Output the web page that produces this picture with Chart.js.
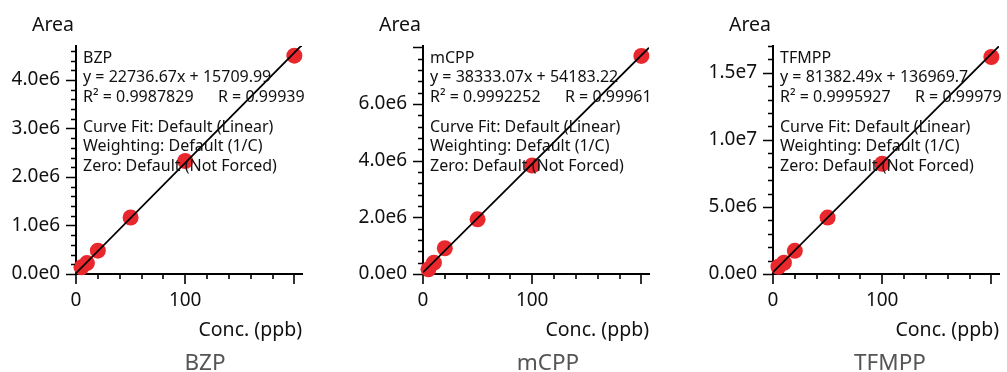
<!DOCTYPE html>
<html>
<head>
<meta charset="utf-8">
<script src="https://cdn.jsdelivr.net/npm/chart.js@4.4.1/dist/chart.umd.min.js"></script>
<style>
  body { margin: 0; background: #fff; }
  #wrap { position: relative; width: 1007px; height: 372px; overflow: hidden; }
  .panel { position: absolute; top: 0; }
  .caption {
    position: absolute; top: 348px; width: 140px; margin-left: -70px;
    text-align: center; font: 22.5px "Noto Sans", sans-serif; color: #555; line-height: 28px;
  }
</style>
</head>
<body>
<div id="wrap">
  <canvas class="panel" id="c0" width="310" height="372" style="left:0px"></canvas>
  <canvas class="panel" id="c1" width="310" height="372" style="left:347px"></canvas>
  <canvas class="panel" id="c2" width="310" height="372" style="left:697px"></canvas>
  <div class="caption" style="left:205px">BZP</div>
  <div class="caption" style="left:548px">mCPP</div>
  <div class="caption" style="left:890px">TFMPP</div>
</div>
<script>
// calibration levels (ppb) and peak areas
const concentrations = [5, 10, 20, 50, 100, 200];
const bzpArea = [138000, 226000, 480000, 1165000, 2330000, 4500000];
const mcppArea = [166000, 400000, 910000, 1930000, 3830000, 7700000];
const tfmppArea = [540000, 840000, 1730000, 4210000, 8220000, 16180000];

const compounds = ['BZP', 'mCPP', 'TFMPP'];
const slopes = [22736.67, 38333.07, 81382.49];
const intercepts = [15709.99, 54183.22, 136969.7];
const fitEquations = ['y = 22736.67x + 15709.99', 'y = 38333.07x + 54183.22', 'y = 81382.49x + 136969.7'];
const rSquared = ['R² = 0.9987829', 'R² = 0.9992252', 'R² = 0.9995927'];
const rValues = ['R = 0.99939', 'R = 0.99961', 'R = 0.99979'];
const fitNotes = ['Curve Fit: Default (Linear)', 'Weighting: Default (1/C)', 'Zero: Default (Not Forced)'];

const xTicks = [0, 100, 200];
const xTickLabels = ['0', '100', ''];
const bzpYTicks = [0, 1e6, 2e6, 3e6, 4e6];
const bzpYLabels = ['0.0e0', '1.0e6', '2.0e6', '3.0e6', '4.0e6'];
const mcppYTicks = [0, 2e6, 4e6, 6e6, 8e6];
const mcppYLabels = ['0.0e0', '2.0e6', '4.0e6', '6.0e6', ''];
const tfmppYTicks = [0, 5e6, 1e7, 1.5e7];
const tfmppYLabels = ['0.0e0', '5.0e6', '1.0e7', '1.5e7'];

const X_MAX = 207;
const X_MINOR = 20;
const FONT = '"Noto Sans", sans-serif';

// minor/major tick marks, "Area" label and the fit summary text
const decor = {
  id: 'decor',
  afterDatasetsDraw(chart, args, opts) {
    const ctx = chart.ctx;
    const { left, bottom } = chart.chartArea;
    const xs = chart.scales.x, ys = chart.scales.y;
    ctx.save();
    ctx.strokeStyle = '#000';
    ctx.lineWidth = 1.6;
    ctx.beginPath();
    for (let k = 0; k * X_MINOR <= xs.max + 1e-9; k++) {
      const v = k * X_MINOR;
      const px = Math.round(xs.getPixelForValue(v));
      const len = xTicks.includes(v) ? 9 : 4;
      ctx.moveTo(px, bottom + 1);
      ctx.lineTo(px, bottom + 1 + len);
    }
    for (let k = 0; k * opts.yMinor <= ys.max * 1.0000001; k++) {
      const v = k * opts.yMinor;
      const py = Math.round(ys.getPixelForValue(v)) + 0.5;
      const major = opts.yMajor.some(m => Math.abs(m - v) < opts.yMinor / 10);
      const len = major ? 9 : 4;
      ctx.moveTo(left - 1, py);
      ctx.lineTo(left - 1 - len, py);
    }
    ctx.stroke();

    ctx.fillStyle = '#111';
    ctx.font = '19.5px ' + FONT;
    ctx.textAlign = 'right';
    ctx.textBaseline = 'alphabetic';
    ctx.fillText('Area', left - 2, 31);

    ctx.font = '16px ' + FONT;
    ctx.textAlign = 'left';
    const tx = left + 7;
    ctx.fillText(opts.name, tx, 62.5);
    ctx.fillText(opts.equation, tx, 82);
    ctx.fillText(opts.r2, tx, 101.5);
    ctx.fillText(opts.r, left + 142, 101.5);
    ctx.fillText(fitNotes[0], tx, 131.5);
    ctx.fillText(fitNotes[1], tx, 151);
    ctx.fillText(fitNotes[2], tx, 170.5);
    ctx.restore();
  }
};

function makePanel(canvasId, idx, areas, yMax, yTicks, yLabels, yMinor) {
  const points = concentrations.map((c, i) => ({ x: c, y: areas[i] }));
  const fitLine = [
    { x: 0, y: intercepts[idx] },
    { x: X_MAX, y: slopes[idx] * X_MAX + intercepts[idx] }
  ];
  return new Chart(document.getElementById(canvasId), {
    type: 'scatter',
    data: {
      datasets: [{
        data: fitLine,
        showLine: true,
        borderColor: '#000',
        borderWidth: 1.8,
        pointRadius: 0,
        order: 0
      }, {
        data: points,
        pointRadius: 8,
        pointBackgroundColor: '#e8282d',
        pointBorderWidth: 0,
        clip: false,
        order: 1
      }]
    },
    options: {
      responsive: false,
      animation: false,
      layout: { padding: { top: 46, right: 2, bottom: 30, left: 0 } },
      plugins: {
        legend: { display: false },
        tooltip: { enabled: false },
        decor: {
          name: compounds[idx],
          equation: fitEquations[idx],
          r2: rSquared[idx],
          r: rValues[idx],
          yMajor: yTicks,
          yMinor: yMinor
        }
      },
      scales: {
        x: {
          type: 'linear',
          min: 0,
          max: X_MAX,
          afterBuildTicks: s => { s.ticks = xTicks.map(v => ({ value: v })); },
          afterFit: s => { s.height = 68; },
          grid: { display: false, drawTicks: false },
          border: { display: true, color: '#000', width: 2 },
          ticks: {
            autoSkip: false,
            maxRotation: 0,
            padding: 15,
            color: '#111',
            font: { family: FONT, size: 19 },
            callback: (v, i) => xTickLabels[i]
          },
          title: {
            display: true,
            text: 'Conc. (ppb)',
            align: 'end',
            color: '#111',
            padding: { top: 0, bottom: 0 },
            font: { family: FONT, size: 19.5 }
          }
        },
        y: {
          type: 'linear',
          min: 0,
          max: yMax,
          afterBuildTicks: s => { s.ticks = yTicks.map(v => ({ value: v })); },
          afterFit: s => { s.width = 76; },
          grid: { display: false, drawTicks: false },
          border: { display: true, color: '#000', width: 2 },
          ticks: {
            autoSkip: false,
            padding: 16,
            color: '#111',
            font: { family: FONT, size: 19 },
            callback: (v, i) => yLabels[i]
          }
        }
      }
    },
    plugins: [decor]
  });
}

makePanel('c0', 0, bzpArea, 4.7e6, bzpYTicks, bzpYLabels, 2e5);
makePanel('c1', 1, mcppArea, 8.05e6, mcppYTicks, mcppYLabels, 4e5);
makePanel('c2', 2, tfmppArea, 1.7e7, tfmppYTicks, tfmppYLabels, 1e6);
</script>
</body>
</html>
